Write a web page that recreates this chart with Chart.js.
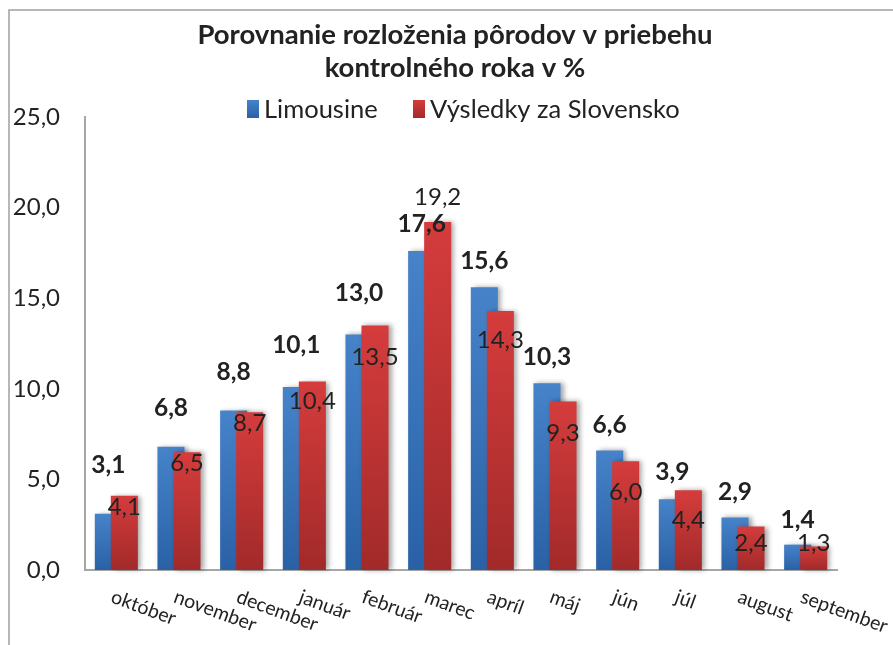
<!DOCTYPE html>
<html>
<head>
<meta charset="utf-8">
<script src="https://cdn.jsdelivr.net/npm/chart.js@4"></script>
<style>
  body { margin: 0; background: #fff; }
  #wrap { width: 893px; height: 645px; position: relative; }
</style>
</head>
<body>
<div id="wrap"><canvas id="chart"></canvas></div>
<script>
const months = ['október', 'november', 'december', 'január', 'február', 'marec', 'apríl', 'máj', 'jún', 'júl', 'august', 'september'];
const limousine = [3.1, 6.8, 8.8, 10.1, 13.0, 17.6, 15.6, 10.3, 6.6, 3.9, 2.9, 1.4];
const slovensko = [4.1, 6.5, 8.7, 10.4, 13.5, 19.2, 14.3, 9.3, 6.0, 4.4, 2.4, 1.3];
const seriesNames = ['Limousine', 'Výsledky za Slovensko'];
const titleLines = ['Porovnanie rozloženia pôrodov v priebehu', 'kontrolného roka v %'];

// label placement tweaks (px) relative to bar top, like the hand-moved excel labels
const blueLift = [49, 39, 38, 42, 41, 27, 26, 26, 25, 27, 25, 25];
const redDrop = [12, 11, 11, 20, 32, -25, 29, 32, 31, 30, 17, -3];

const BLUE = ['#4683c9', '#2a61a6'];
const RED = ['#d53c3c', '#a22a2a'];
const TEXT = '#222';
const FONT = 'Lato';

const fmt = (v) => v.toFixed(1).replace('.', ',');

function barFill(colors) {
  return (c) => {
    const chart = c.chart;
    if (!chart.chartArea || c.raw == null) return colors[0];
    const y = chart.scales.y;
    const g = chart.ctx.createLinearGradient(0, y.getPixelForValue(c.raw), 0, y.getPixelForValue(0));
    g.addColorStop(0, colors[0]);
    g.addColorStop(1, colors[1]);
    return g;
  };
}

function withShadow(ctx, fn) {
  ctx.save();
  ctx.shadowColor = 'rgba(0,0,0,0.35)';
  ctx.shadowBlur = 5;
  ctx.shadowOffsetX = 3;
  fn();
  ctx.restore();
}

const decor = {
  id: 'decor',
  beforeDraw(chart) {
    const ctx = chart.ctx;
    ctx.save();
    ctx.strokeStyle = '#a0a0a0';
    ctx.lineWidth = 1.5;
    ctx.beginPath();
    ctx.moveTo(9, 645);
    ctx.lineTo(9, 10);
    ctx.lineTo(893, 10);
    ctx.stroke();

    // title
    ctx.fillStyle = TEXT;
    ctx.textAlign = 'center';
    ctx.textBaseline = 'middle';
    ctx.font = `bold 27.5px ${FONT}`;
    ctx.fillText(titleLines[0], 455, 35);
    ctx.fillText(titleLines[1], 455, 68);

    // legend
    ctx.font = `25.5px ${FONT}`;
    ctx.textAlign = 'left';
    const items = [[seriesNames[0], BLUE, 247], [seriesNames[1], RED, 413]];
    items.forEach(([name, cols, x]) => {
      const g = ctx.createLinearGradient(0, 100, 0, 118);
      g.addColorStop(0, cols[0]);
      g.addColorStop(1, cols[1]);
      ctx.fillStyle = g;
      ctx.fillRect(x, 100, 12, 18);
      ctx.fillStyle = TEXT;
      ctx.fillText(name, x + 17, 110);
    });
    ctx.restore();
  },
  // red bars sit in front of blue ones: skip red in the normal pass, draw it after blue
  beforeDatasetDraw(chart, args) {
    if (args.index === 1) return false;
    chart.ctx.save();
    chart.ctx.shadowColor = 'rgba(0,0,0,0.35)';
    chart.ctx.shadowBlur = 5;
    chart.ctx.shadowOffsetX = 3;
  },
  afterDatasetDraw(chart, args) {
    if (args.index !== 0) return;
    chart.ctx.restore();
    withShadow(chart.ctx, () => chart.getDatasetMeta(1).controller.draw());
  },
  afterDatasetsDraw(chart) {
    const ctx = chart.ctx;
    ctx.save();
    ctx.fillStyle = TEXT;
    ctx.textAlign = 'center';
    ctx.textBaseline = 'middle';

    const blue = chart.getDatasetMeta(0).data;
    const red = chart.getDatasetMeta(1).data;
    ctx.font = `bold 24.5px ${FONT}`;
    blue.forEach((bar, i) => ctx.fillText(fmt(limousine[i]), bar.x, bar.y - blueLift[i]));
    ctx.font = `24px ${FONT}`;
    red.forEach((bar, i) => ctx.fillText(fmt(slovensko[i]), bar.x, bar.y + redDrop[i]));

    // slanted month labels
    const x = chart.scales.x;
    ctx.font = `19.5px ${FONT}`;
    ctx.textAlign = 'left';
    ctx.textBaseline = 'top';
    months.forEach((m, i) => {
      ctx.save();
      ctx.translate(x.getPixelForValue(i) - 1, chart.chartArea.bottom + 17);
      ctx.rotate(0.35);
      ctx.fillText(m, 0, 0);
      ctx.restore();
    });
    ctx.restore();
  }
};

new Chart(document.getElementById('chart'), {
  type: 'bar',
  data: {
    labels: months,
    datasets: [
      { label: seriesNames[0], data: limousine, backgroundColor: barFill(BLUE) },
      { label: seriesNames[1], data: slovensko, backgroundColor: barFill(RED) }
    ]
  },
  options: {
    responsive: true,
    maintainAspectRatio: false,
    animation: false,
    categoryPercentage: 0.511,
    barPercentage: 1.69,
    layout: { padding: { top: 117, right: 56, left: 0, bottom: 0 } },
    plugins: { legend: { display: false }, title: { display: false }, tooltip: { enabled: false } },
    scales: {
      x: {
        grid: { display: false, drawTicks: false },
        border: { display: true, color: '#a6a6a6', width: 2 },
        ticks: { display: false },
        afterFit: (s) => { s.height = 75; }
      },
      y: {
        min: 0,
        max: 25,
        grid: { display: false, drawTicks: false },
        border: { display: true, color: '#a6a6a6', width: 2 },
        ticks: { stepSize: 5, padding: 25, color: TEXT, font: { family: FONT, size: 24 }, callback: (v) => fmt(v) },
        afterFit: (s) => { s.width = 85; }
      }
    }
  },
  plugins: [decor]
});
</script>
</body>
</html>
